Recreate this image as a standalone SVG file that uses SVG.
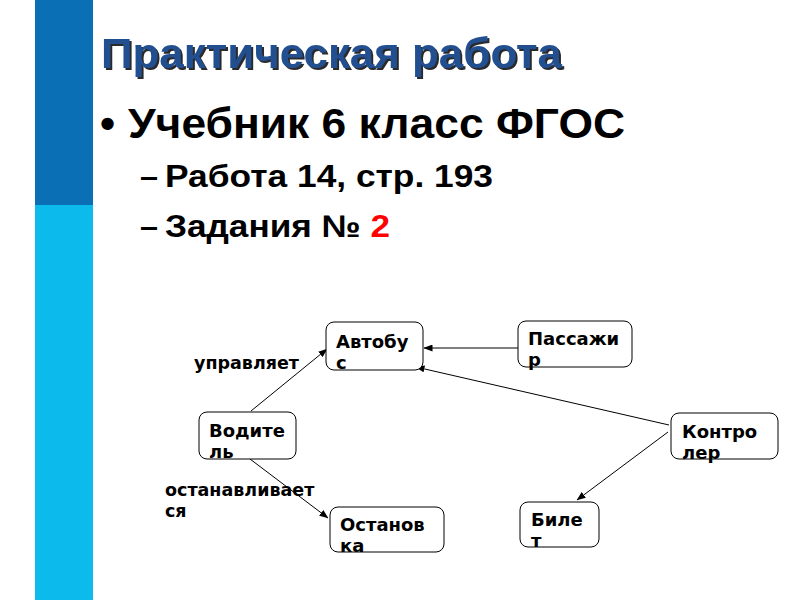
<svg xmlns="http://www.w3.org/2000/svg" width="800" height="600" viewBox="0 0 800 600">
<defs>
<marker id="ah" markerWidth="9" markerHeight="7" refX="8.5" refY="3.5" orient="auto" markerUnits="userSpaceOnUse">
<path d="M0,0 L9,3.5 L0,7 Z" fill="#000"/>
</marker>
<filter id="sh" x="-5%" y="-20%" width="110%" height="150%">
<feDropShadow dx="2" dy="2" stdDeviation="0.3" flood-color="#2b2b2b" flood-opacity="1"/>
</filter>
</defs>
<style>
.box{fill:#fff;stroke:#000;stroke-width:1}
.nt{font-family:"DejaVu Sans",sans-serif;font-weight:bold;font-size:18px;fill:#000}
.lbl{font-family:"DejaVu Sans",sans-serif;font-weight:bold;font-size:17.5px;fill:#000}
.cn{stroke:#000;stroke-width:1;fill:none;marker-end:url(#ah)}
.ls{font-family:"Liberation Sans",Arial,sans-serif;font-weight:bold}
</style>
<rect width="800" height="600" fill="#fff"/>
<rect x="35" y="0" width="58" height="205" fill="#0b6fb6"/>
<rect x="35" y="205" width="58" height="395" fill="#0cbbec"/>
<g id="title">
<text x="101" y="68" class="ls" font-size="42" fill="#24508f" filter="url(#sh)" textLength="461" lengthAdjust="spacingAndGlyphs">Практическая работа</text>
</g>
<g id="bullets">
<text x="100" y="138" class="ls" font-size="43" fill="#000">•</text>
<text x="128" y="138" class="ls" font-size="43" fill="#000" textLength="497" lengthAdjust="spacingAndGlyphs">Учебник 6 класс ФГОС</text>
<text x="140" y="187" class="ls" font-size="31" fill="#000" textLength="18" lengthAdjust="spacingAndGlyphs">–</text>
<text x="165" y="187" class="ls" font-size="31" fill="#000" textLength="328" lengthAdjust="spacingAndGlyphs">Работа 14, стр. 193</text>
<text x="140" y="237" class="ls" font-size="31" fill="#000" textLength="18" lengthAdjust="spacingAndGlyphs">–</text>
<text x="165" y="237" class="ls" font-size="31" fill="#000" textLength="225" lengthAdjust="spacingAndGlyphs">Задания № <tspan fill="#f00">2</tspan></text>
</g>
<g id="connectors">
<line class="cn" x1="518" y1="348" x2="424" y2="348"/>
<line class="cn" x1="669" y1="425" x2="416" y2="367"/>
<line class="cn" x1="251" y1="411" x2="327" y2="349"/>
<line class="cn" x1="250" y1="459" x2="328" y2="518"/>
<line class="cn" x1="668" y1="432" x2="577" y2="500"/>
</g>
<g id="labels">
<text x="194" y="369" class="lbl">управляет</text>
<text x="165" y="496" class="lbl">останавливает</text>
<text x="165" y="517" class="lbl">ся</text>
</g>
<g id="avtobus">
<rect class="box" x="326" y="322" width="97" height="48" rx="8"/>
<text class="nt" x="336" y="348">Автобу</text>
<text class="nt" x="336" y="369">с</text>
</g>
<g id="passazhir">
<rect class="box" x="518" y="321" width="114" height="46" rx="8"/>
<text class="nt" x="528" y="345">Пассажи</text>
<text class="nt" x="528" y="366">р</text>
</g>
<g id="voditel">
<rect class="box" x="199" y="412" width="97" height="47" rx="8"/>
<text class="nt" x="209" y="437">Водите</text>
<text class="nt" x="209" y="458">ль</text>
</g>
<g id="kontroler">
<rect class="box" x="671" y="413" width="107" height="46" rx="8"/>
<text class="nt" x="682" y="438">Контро</text>
<text class="nt" x="682" y="459">лер</text>
</g>
<g id="ostanovka">
<rect class="box" x="330" y="507" width="114" height="45" rx="8"/>
<text class="nt" x="340" y="531">Останов</text>
<text class="nt" x="340" y="552">ка</text>
</g>
<g id="bilet">
<rect class="box" x="520" y="502" width="79" height="45" rx="8"/>
<text class="nt" x="531" y="526">Биле</text>
<text class="nt" x="531" y="547">т</text>
</g>
</svg>
